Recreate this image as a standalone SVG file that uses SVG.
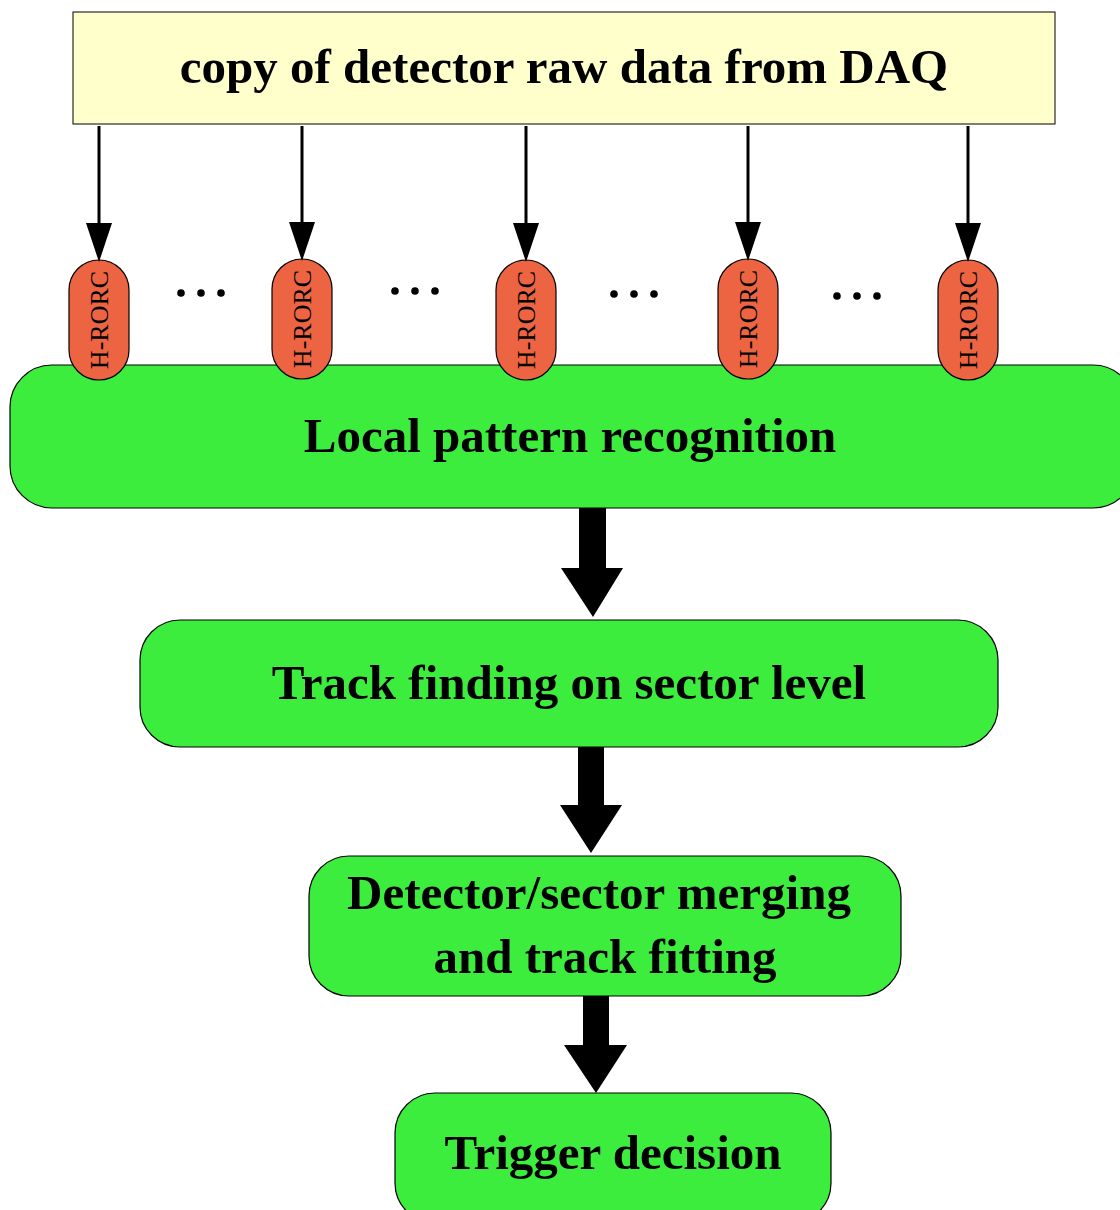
<svg xmlns="http://www.w3.org/2000/svg" width="1120" height="1210" viewBox="0 0 1120 1210">
<defs>
<style>
.box{fill:#3ded3d;stroke:#000;stroke-width:1.2}
.pill{fill:#ec6441;stroke:#000;stroke-width:1.2}
.t{font-family:"Liberation Serif",serif;font-weight:bold;font-size:49px;fill:#000;text-anchor:middle}
.pt{font-family:"Liberation Serif",serif;font-size:26px;fill:#000;text-anchor:middle}
.thin{stroke:#000;stroke-width:3;fill:none}
.fat{fill:#000}
.dot{fill:#000}
</style>
</defs>
<rect width="1120" height="1210" fill="#fff"/>
<g id="daq">
<rect x="73" y="12" width="982" height="112" fill="#ffffcc" stroke="#000" stroke-width="1"/>
<text class="t" x="564" y="83">copy of detector raw data from DAQ</text>
</g>
<g id="local">
<rect class="box" x="10" y="365" width="1125" height="143" rx="42"/>
<text class="t" x="570" y="452">Local pattern recognition</text>
</g>
<g id="hrorc1"><rect class="pill" x="69" y="260" width="60" height="120" rx="30"/><text class="pt" transform="translate(108 320) rotate(-90)">H-RORC</text></g>
<g id="hrorc2"><rect class="pill" x="272" y="259" width="60" height="120" rx="30"/><text class="pt" transform="translate(311 319) rotate(-90)">H-RORC</text></g>
<g id="hrorc3"><rect class="pill" x="496" y="260" width="60" height="120" rx="30"/><text class="pt" transform="translate(535 320) rotate(-90)">H-RORC</text></g>
<g id="hrorc4"><rect class="pill" x="718" y="259" width="60" height="120" rx="30"/><text class="pt" transform="translate(757 319) rotate(-90)">H-RORC</text></g>
<g id="hrorc5"><rect class="pill" x="938" y="260" width="60" height="120" rx="30"/><text class="pt" transform="translate(977 320) rotate(-90)">H-RORC</text></g>
<g id="dots">
<circle class="dot" cx="181" cy="293" r="3.8"/><circle class="dot" cx="201" cy="293" r="3.8"/><circle class="dot" cx="221" cy="293" r="3.8"/>
<circle class="dot" cx="395" cy="291" r="3.8"/><circle class="dot" cx="415" cy="291" r="3.8"/><circle class="dot" cx="435" cy="291" r="3.8"/>
<circle class="dot" cx="614" cy="294" r="3.8"/><circle class="dot" cx="634" cy="294" r="3.8"/><circle class="dot" cx="654" cy="294" r="3.8"/>
<circle class="dot" cx="837" cy="296" r="3.8"/><circle class="dot" cx="857" cy="296" r="3.8"/><circle class="dot" cx="877" cy="296" r="3.8"/>
</g>
<g id="track">
<rect class="box" x="140" y="620" width="858" height="127" rx="40"/>
<text class="t" x="569" y="699">Track finding on sector level</text>
</g>
<g id="merge">
<rect class="box" x="309" y="856" width="592" height="140" rx="40"/>
<text class="t" x="599" y="909">Detector/sector merging</text>
<text class="t" x="605" y="973">and track fitting</text>
</g>
<g id="trigger">
<rect class="box" x="395" y="1093" width="436" height="130" rx="40"/>
<text class="t" x="613" y="1169">Trigger decision</text>
</g>
<g id="connectors">
<line class="thin" x1="99" y1="126" x2="99" y2="225"/><polygon class="fat" points="86,223 112,223 99,262"/>
<line class="thin" x1="302" y1="126" x2="302" y2="224"/><polygon class="fat" points="289,222 315,222 302,261"/>
<line class="thin" x1="526" y1="126" x2="526" y2="225"/><polygon class="fat" points="513,223 539,223 526,262"/>
<line class="thin" x1="748" y1="126" x2="748" y2="224"/><polygon class="fat" points="735,222 761,222 748,261"/>
<line class="thin" x1="968" y1="126" x2="968" y2="225"/><polygon class="fat" points="955,223 981,223 968,262"/>
<polygon class="fat" points="579,508 606,508 606,568 623,568 593,617 561,568 579,568"/>
<polygon class="fat" points="578,747 604,747 604,805 622,805 591,853 560,805 578,805"/>
<polygon class="fat" points="583,996 609,996 609,1045 627,1045 596,1093 564,1045 583,1045"/>
</g>
</svg>
